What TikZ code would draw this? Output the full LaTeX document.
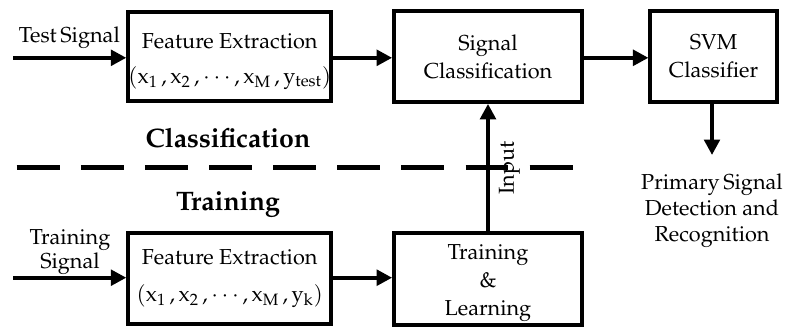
\documentclass[tikz,border=0pt]{standalone}
\usepackage[T1]{fontenc}
\usepackage{mathpazo}
\usetikzlibrary{arrows.meta}

\tikzset{
  block/.style={draw, line width=2.6pt, align=center, inner sep=0pt,
    font=\fontsize{15.4}{20}\selectfont},
  txt/.style={align=center, font=\fontsize{15.4}{18.5}\selectfont},
  phase/.style={font=\fontsize{19}{22}\selectfont\bfseries},
}

\begin{document}
\begin{tikzpicture}[x=0.025cm, y=-0.025cm, line width=3.1pt, >={Triangle[length=11pt,width=11pt]}]
            \useasboundingbox (0,0) rectangle (788,328);

            % classification part
            \node[block, minimum width=5.075cm, minimum height=2.225cm] (fe1) at (229.7,56.5) {\rule{0pt}{18pt}Feature Extraction\\[5pt]$(\mathrm{x}_{1}\,, \mathrm{x}_{2}\,, \cdots, \mathrm{x}_{\mathrm{M}}\,, \mathrm{y}_{\mathrm{test}})$};
            \node[block, minimum width=4.7cm, minimum height=2.275cm] (sigcls) at (488,56.5) {Signal\\Classification};
            \node[block, minimum width=3.16cm, minimum height=2.275cm] (svm) at (713.5,56.5) {SVM\\Classifier};
            \node[txt, anchor=base west] (testsig) at (12,43) {Test\,Signal};
            \node[txt] (result) at (712,211) {Primary\,Signal\\Detection and\\Recognition};
            \node[phase, anchor=base] (clsname) at (228,147) {Classification};
            \coordinate (testin) at (13,57.8);
            \coordinate (svmout) at (712,155);

            % training part
            \node[block, minimum width=5.075cm, minimum height=2.275cm] (fe2) at (229.7,278.5) {Feature Extraction\\[6pt]$(\mathrm{x}_{1}\,, \mathrm{x}_{2}\,, \cdots, \mathrm{x}_{\mathrm{M}}\,, \mathrm{y}_{\mathrm{k}})$};
            \node[block, minimum width=4.7cm, minimum height=2.3cm] (train) at (488,279) {\rule{0pt}{16pt}Training\\\&\\Learning};
            \node[txt] (trainsig) at (70,252) {Training\\[-2pt]Signal};
            \node[phase, anchor=base] (trnname) at (228,210) {Training};
            \node[txt, rotate=90] (input) at (509.5,168) {Input};
            \coordinate (trainin) at (13,277.7);

            \draw[line width=3.4pt, dash pattern=on 30.5pt off 15.1pt] (16.7,167.3) -- (575,167.3);

            \draw[->] (testin) -- (fe1.west |- testin);
            \draw[->] (fe1.east |- testin) -- (sigcls.west |- testin);
            \draw[->] (sigcls.east |- testin) -- (svm.west |- testin);
            \draw[->] (svm.south -| svmout) -- (svmout);
            \draw[->] (trainin) -- (fe2.west |- trainin);
            \draw[->] (fe2.east |- trainin) -- (train.west |- trainin);
            \draw[->] (train) -- (sigcls);
        \end{tikzpicture}
\end{document}
